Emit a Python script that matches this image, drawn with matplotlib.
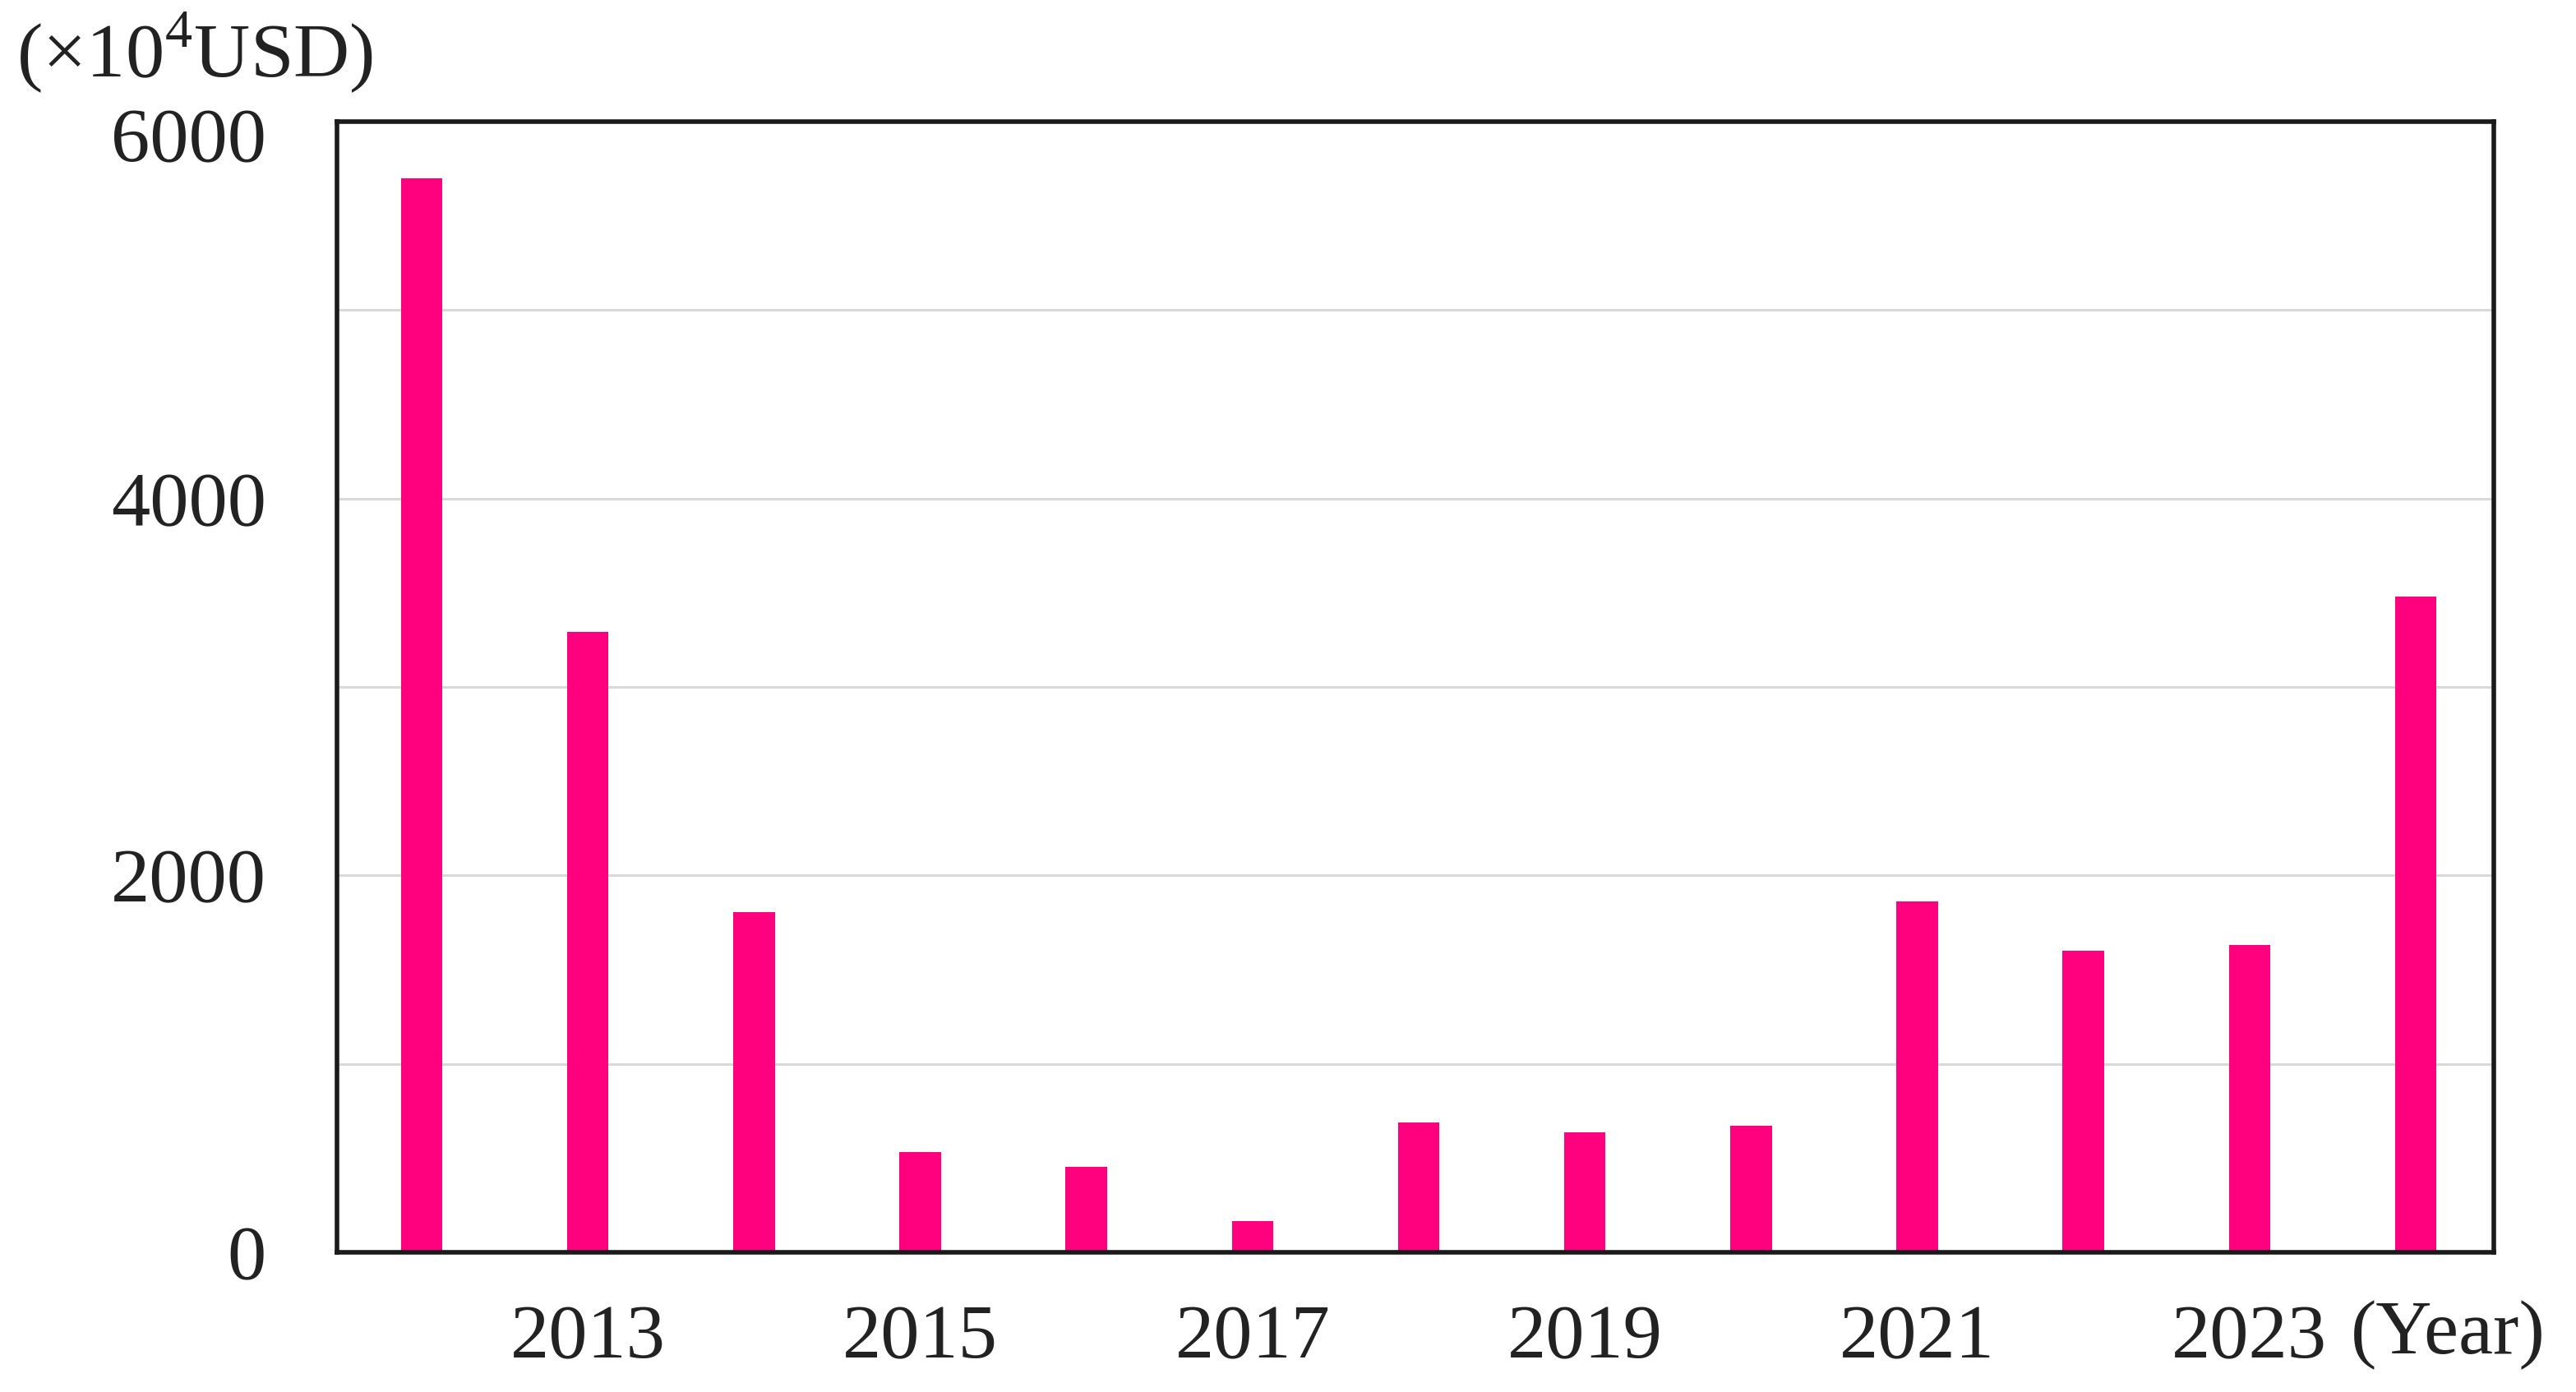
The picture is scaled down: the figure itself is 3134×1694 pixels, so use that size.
import matplotlib
matplotlib.use("Agg")
import matplotlib.pyplot as plt
import matplotlib.transforms as mtransforms
from matplotlib.ticker import MultipleLocator

years = [2012, 2013, 2014, 2015, 2016, 2017, 2018, 2019, 2020, 2021, 2022, 2023, 2024]
values = [5700, 3290, 1805, 530, 455, 165, 690, 635, 670, 1860, 1600, 1630, 3480]
xtick_years = [2013, 2015, 2017, 2019, 2021, 2023]
ytick_vals = [0, 2000, 4000, 6000]

plt.rcParams['font.family'] = ['Liberation Serif', 'DejaVu Serif']
plt.rcParams['mathtext.fontset'] = 'custom'
plt.rcParams['mathtext.rm'] = 'Liberation Serif'

fig = plt.figure(figsize=(31.34, 16.94), dpi=100)
ax = fig.add_axes([0.1308, 0.1004, 0.8373, 0.8122])

ax.bar(years, values, width=0.25, color='#ff007f', zorder=3)

ax.set_xlim(2011.49, 2024.47)
ax.set_ylim(0, 6000)
ax.set_xticks(xtick_years)
ax.set_xticklabels([str(y) for y in xtick_years])
ax.set_yticks(ytick_vals)
ax.yaxis.set_minor_locator(MultipleLocator(1000))
ax.grid(axis='y', which='both', color='#d9d9d9', linewidth=2.2, zorder=0)

ax.tick_params(axis='x', length=0, pad=46, labelsize=68, colors='#222222')
ax.tick_params(axis='y', which='both', length=0, pad=62, labelsize=68, colors='#222222')
for s in ax.spines.values():
    s.set_linewidth(4)
    s.set_color('#1a1a1a')
    s.set_zorder(4)

# top label sits a little below the frame in the original
top_lab = ax.get_yticklabels()[-1]
top_lab.set_transform(top_lab.get_transform() +
                      mtransforms.ScaledTranslation(0, -0.16, fig.dpi_scale_trans))

fig.text(0.0065, 0.962, '(×10$^{4}$USD)', fontsize=68, va='center', ha='left', color='#222222')
fig.text(0.9126, 0.041, '(Year)', fontsize=68, va='center', ha='left', color='#222222')

fig.savefig('out.png', dpi=100)
